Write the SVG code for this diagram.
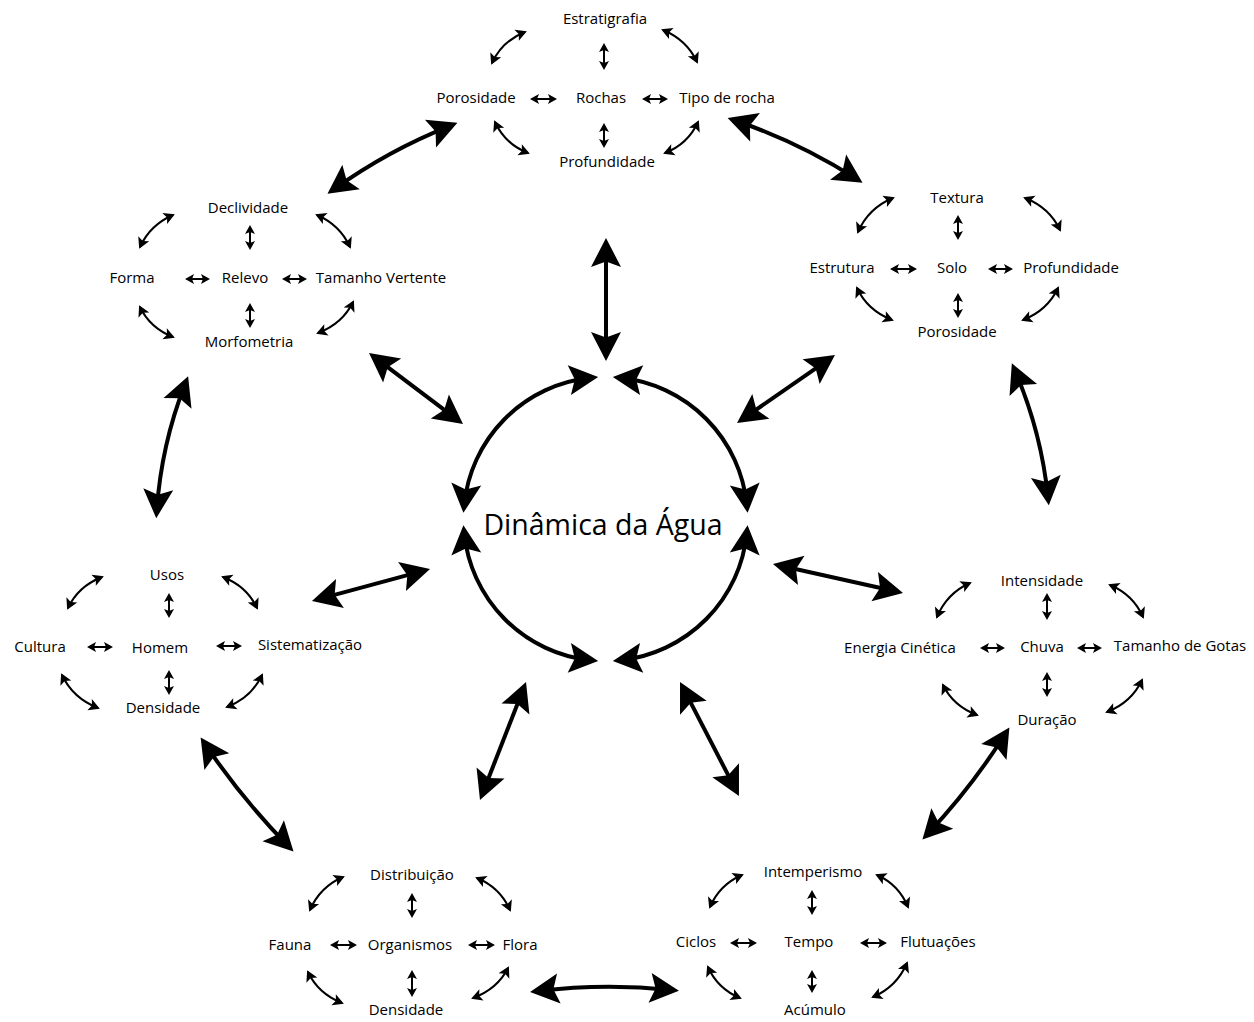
<svg xmlns="http://www.w3.org/2000/svg" width="1254" height="1022" viewBox="0 0 1254 1022">
  <style>
    .lbl { font-family: "Open Sans", "Noto Sans", sans-serif; font-size: 15px; text-anchor: middle; fill: #000; }
    .title { font-family: "Open Sans", "Noto Sans", sans-serif; font-size: 28.5px; text-anchor: middle; fill: #000; }
    .big { fill: none; stroke: #000; stroke-width: 4; marker-start: url(#hb); marker-end: url(#hb); }
    .sm { fill: none; stroke: #000; stroke-width: 2; marker-start: url(#hs); marker-end: url(#hs); }
    .cv { fill: none; stroke: #000; stroke-width: 2; marker-start: url(#hc); marker-end: url(#hc); }
  </style>
  <defs>
    <!-- barbed heads; the tip sits a little past the path end so the stroke never blunts it -->
    <marker id="hb" markerUnits="userSpaceOnUse" orient="auto-start-reverse" markerWidth="40" markerHeight="40" refX="0" refY="0" overflow="visible">
      <path d="M8,0 L-21,-15 L-15.5,0 L-21,15 Z" fill="#000"/>
    </marker>
    <marker id="hs" markerUnits="userSpaceOnUse" orient="auto-start-reverse" markerWidth="12" markerHeight="12" refX="0" refY="0" overflow="visible">
      <path d="M2,0 L-7,-5 L-5,0 L-7,5 Z" fill="#000"/>
    </marker>
    <marker id="hc" markerUnits="userSpaceOnUse" orient="auto-start-reverse" markerWidth="14" markerHeight="14" refX="0" refY="0" overflow="visible">
      <path d="M2,0 L-9,-6 L-6.5,0 L-9,6 Z" fill="#000"/>
    </marker>
  </defs>
  <rect width="1254" height="1022" fill="#fff"/>

  <!-- connectors between the groups and the centre -->
  <g id="connectors">
    <path class="big" d="M606,246 L606,353"/>
    <path class="big" d="M450,125.8 Q388,150.5 334,189.2"/>
    <path class="big" d="M735.2,120.5 Q799,142.3 855.8,178.5"/>
    <path class="big" d="M375.4,357.8 L456.6,419.2"/>
    <path class="big" d="M828.4,359.6 L743.6,418.4"/>
    <path class="big" d="M185.2,383.8 Q161.3,444.8 156.8,510.2"/>
    <path class="big" d="M1015,370.7 Q1041.2,431.5 1048,497.3"/>
    <path class="big" d="M319.7,598.9 L422.3,571.1"/>
    <path class="big" d="M780.8,565.7 L895.2,591.3"/>
    <path class="big" d="M205.1,744.2 Q241.9,798.8 287.9,845.8"/>
    <path class="big" d="M1005.1,734.3 Q971.2,787.7 927.9,833.7"/>
    <path class="big" d="M523.1,689.5 L482.9,792.5"/>
    <path class="big" d="M683.7,689.1 L735.3,788.9"/>
    <path class="big" d="M538,991 Q604.5,983 671,990"/>
  </g>

  <!-- centre: four arcs around the title -->
  <g id="dinamica">
    <path class="big" d="M464.2,504.9 A142,142 0 0,1 590.2,377.8"/>
    <path class="big" d="M620.8,377.8 A142,142 0 0,1 746.8,504.9"/>
    <path class="big" d="M746.8,533.1 A142,142 0 0,1 620.8,660.2"/>
    <path class="big" d="M590.2,660.2 A142,142 0 0,1 464.2,533.1"/>
    <text class="title" x="603" y="535">Dinâmica da Água</text>
  </g>

  <g id="rochas">
    <text class="lbl" x="605" y="24">Estratigrafia</text>
    <text class="lbl" x="476" y="103">Porosidade</text>
    <text class="lbl" x="601" y="103">Rochas</text>
    <text class="lbl" x="727" y="103">Tipo de rocha</text>
    <text class="lbl" x="607" y="167">Profundidade</text>
    <path class="sm" d="M604,45 L604,68"/>
    <path class="sm" d="M604,125 L604,146"/>
    <path class="sm" d="M532,99 L555,99"/>
    <path class="sm" d="M644,99 L666,99"/>
    <path class="cv" d="M492,63 Q502,41 525,32"/>
    <path class="cv" d="M663,30 Q687,40 697,62"/>
    <path class="cv" d="M495,122 Q505,144 528,153"/>
    <path class="cv" d="M665,153 Q688,144 698,122"/>
  </g>

  <g id="relevo">
    <text class="lbl" x="248" y="213">Declividade</text>
    <text class="lbl" x="132" y="283">Forma</text>
    <text class="lbl" x="245" y="283">Relevo</text>
    <text class="lbl" x="381" y="283">Tamanho Vertente</text>
    <text class="lbl" x="249" y="347">Morfometria</text>
    <path class="sm" d="M250,227 L250,248"/>
    <path class="sm" d="M250,305 L250,326"/>
    <path class="sm" d="M187,279 L208,279"/>
    <path class="sm" d="M284,279 L305,279"/>
    <path class="cv" d="M140,247 Q150,225 173,215"/>
    <path class="cv" d="M317,215 Q340,225 350,247"/>
    <path class="cv" d="M140,307 Q150,328 173,337"/>
    <path class="cv" d="M318,333 Q342.5,323.7 353,302"/>
  </g>

  <g id="solo">
    <text class="lbl" x="957" y="203">Textura</text>
    <text class="lbl" x="842" y="273">Estrutura</text>
    <text class="lbl" x="952" y="273">Solo</text>
    <text class="lbl" x="1071" y="273">Profundidade</text>
    <text class="lbl" x="957" y="337">Porosidade</text>
    <path class="sm" d="M958,217 L958,238"/>
    <path class="sm" d="M958,295 L958,316"/>
    <path class="sm" d="M892,269 L915,269"/>
    <path class="sm" d="M990,269 L1011,269"/>
    <path class="cv" d="M858,232 Q868.5,208 893,198"/>
    <path class="cv" d="M1025,198 Q1049.5,207.6 1060,230"/>
    <path class="cv" d="M857,288 Q867.5,310.4 892,320"/>
    <path class="cv" d="M1023,320 Q1047.5,310.4 1058,288"/>
  </g>

  <g id="homem">
    <text class="lbl" x="167" y="580">Usos</text>
    <text class="lbl" x="40" y="652">Cultura</text>
    <text class="lbl" x="160" y="653">Homem</text>
    <text class="lbl" x="310" y="650">Sistematização</text>
    <text class="lbl" x="163" y="713">Densidade</text>
    <path class="sm" d="M169,595 L169,616"/>
    <path class="sm" d="M169,672 L169,693"/>
    <path class="sm" d="M89,647 L111,647"/>
    <path class="sm" d="M218,646 L240,646"/>
    <path class="cv" d="M68,608 Q78.2,586.3 102,577"/>
    <path class="cv" d="M223,577 Q246.8,586.3 257,608"/>
    <path class="cv" d="M62,675 Q72.8,698.1 98,708"/>
    <path class="cv" d="M227,707 Q251.5,697.4 262,675"/>
  </g>

  <g id="chuva">
    <text class="lbl" x="1042" y="586">Intensidade</text>
    <text class="lbl" x="900" y="653">Energia Cinética</text>
    <text class="lbl" x="1042" y="652">Chuva</text>
    <text class="lbl" x="1180" y="651">Tamanho de Gotas</text>
    <text class="lbl" x="1047" y="725">Duração</text>
    <path class="sm" d="M1047,595 L1047,618"/>
    <path class="sm" d="M1047,674 L1047,695"/>
    <path class="sm" d="M982,648 L1003,648"/>
    <path class="sm" d="M1079,648 L1100,648"/>
    <path class="cv" d="M937,617 Q946.9,593.2 970,583"/>
    <path class="cv" d="M1110,585 Q1133.1,594.6 1143,617"/>
    <path class="cv" d="M943,685 Q953.2,706 977,715"/>
    <path class="cv" d="M1107,712 Q1131.5,702.4 1142,680"/>
  </g>

  <g id="organismos">
    <text class="lbl" x="412" y="880">Distribuição</text>
    <text class="lbl" x="290" y="950">Fauna</text>
    <text class="lbl" x="410" y="950">Organismos</text>
    <text class="lbl" x="520" y="950">Flora</text>
    <text class="lbl" x="406" y="1015">Densidade</text>
    <path class="sm" d="M412,895 L412,916"/>
    <path class="sm" d="M412,972 L412,995"/>
    <path class="sm" d="M332,945 L355,945"/>
    <path class="sm" d="M470,945 L493,945"/>
    <path class="cv" d="M310,910 Q319.9,886.9 343,877"/>
    <path class="cv" d="M477,878 Q500.1,887.6 510,910"/>
    <path class="cv" d="M308,972 Q318.2,993.7 342,1003"/>
    <path class="cv" d="M473,998 Q497.5,989 508,968"/>
  </g>

  <g id="tempo">
    <text class="lbl" x="813" y="877">Intemperismo</text>
    <text class="lbl" x="696" y="947">Ciclos</text>
    <text class="lbl" x="809" y="947">Tempo</text>
    <text class="lbl" x="938" y="947">Flutuações</text>
    <text class="lbl" x="815" y="1015">Acúmulo</text>
    <path class="sm" d="M812,892 L812,913"/>
    <path class="sm" d="M812,972 L812,991"/>
    <path class="sm" d="M732,943 L755,943"/>
    <path class="sm" d="M862,943 L885,943"/>
    <path class="cv" d="M710,907 Q719.6,884.6 742,875"/>
    <path class="cv" d="M877,875 Q898.7,884.6 908,907"/>
    <path class="cv" d="M708,967 Q717.6,988.7 740,998"/>
    <path class="cv" d="M873,997 Q896.8,986.8 907,963"/>
  </g>
</svg>
